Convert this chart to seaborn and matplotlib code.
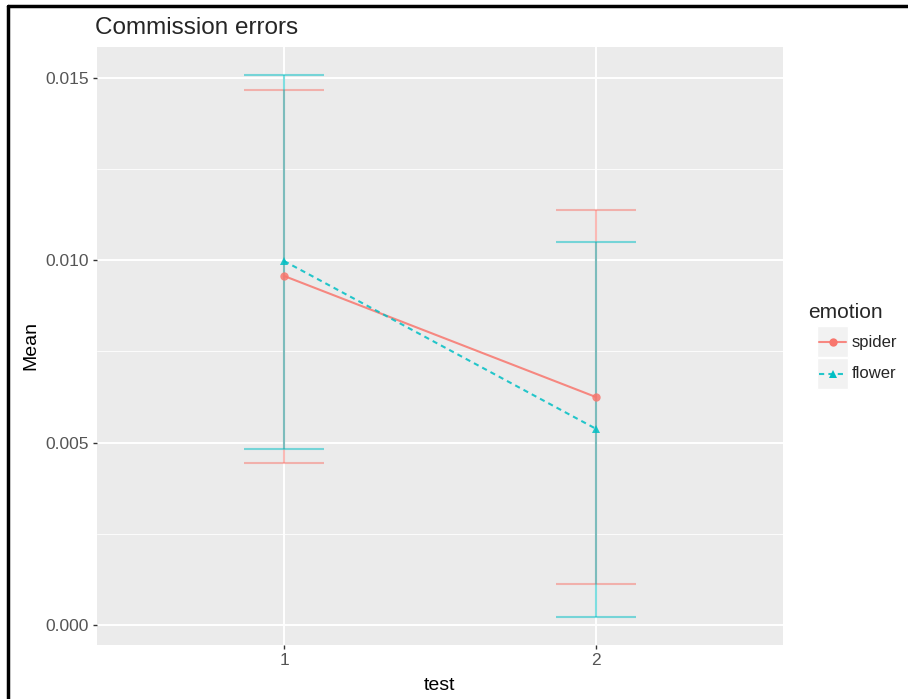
import pandas as pd
import seaborn as sns
import matplotlib.pyplot as plt
from matplotlib.patches import Rectangle
from matplotlib.lines import Line2D

# dados
test = [1, 2, 1, 2]
emotion = ["spider", "spider", "flower", "flower"]
mean = [0.00957, 0.00625, 0.00998, 0.00538]
lower = [0.00444, 0.00112, 0.00483, 0.00022]
upper = [0.01467, 0.01138, 0.01508, 0.01050]

df = pd.DataFrame({"test": test, "emotion": emotion, "Mean": mean,
                   "lower": lower, "upper": upper})

cores = {"spider": "#F8766D", "flower": "#00BFC4"}

sns.set_theme(style="darkgrid", rc={
    "axes.facecolor": "#EBEBEB",
    "grid.color": "white",
})
plt.rcParams["font.family"] = ["Liberation Sans", "DejaVu Sans"]

fig = plt.figure(figsize=(9.08, 6.99), dpi=100)
ax = fig.add_axes([0.1068, 0.0773, 0.7555, 0.8555])

# barras de erro
for emo in ["spider", "flower"]:
    d = df[df["emotion"] == emo]
    ax.errorbar(d["test"], d["Mean"],
                yerr=[d["Mean"] - d["lower"], d["upper"] - d["Mean"]],
                fmt="none", ecolor=cores[emo], alpha=0.5, elinewidth=1.5,
                capsize=29, capthick=1.5, zorder=2)

# linhas com marcadores
sns.lineplot(data=df, x="test", y="Mean", hue="emotion", style="emotion",
             palette=cores, markers={"spider": "o", "flower": "^"},
             dashes={"spider": "", "flower": (2.5, 2)},
             markersize=6, markeredgewidth=0, linewidth=1.5, alpha=0.85,
             legend=False, ax=ax, zorder=3)

ax.set_xlim(0.4, 2.6)
ax.set_ylim(-0.00055, 0.01585)
ax.set_xticks([1, 2])
ax.set_xticklabels(["1", "2"])
ax.set_yticks([0.0, 0.005, 0.010, 0.015])
ax.set_yticklabels(["0.000", "0.005", "0.010", "0.015"])
ax.set_yticks([0.0025, 0.0075, 0.0125], minor=True)
ax.grid(which="major", color="white", linewidth=1.4)
ax.grid(which="minor", axis="y", color="white", linewidth=0.6)
ax.grid(which="minor", axis="x", visible=False)
for s in ax.spines.values():
    s.set_visible(False)
ax.tick_params(axis="both", which="major", length=3, width=1, color="#333333",
               labelcolor="#555555", labelsize=12.5, pad=3, left=True, bottom=True)
ax.tick_params(axis="both", which="minor", length=0)
ax.set_xlabel("test", fontsize=14, color="black", labelpad=6)
ax.set_ylabel("Mean", fontsize=14, color="black", labelpad=4)
ax.set_title("Commission errors", fontsize=17.5, loc="left", x=-0.003, pad=9)

# legenda
fig.text(808 / 908, 1 - 312 / 699, "emotion", fontsize=15, va="center", ha="left")
for i, emo in enumerate(["spider", "flower"]):
    y0 = 326 + i * 32
    fig.patches.append(Rectangle((817 / 908, 1 - (y0 + 31) / 699), 31 / 908, 31 / 699,
                                 transform=fig.transFigure, facecolor="#F2F2F2",
                                 edgecolor="white", linewidth=1))
    yc = 1 - (y0 + 16) / 699
    ls = "-" if emo == "spider" else (0, (2.5, 2))
    mk = "o" if emo == "spider" else "^"
    fig.add_artist(Line2D([819 / 908, 846 / 908], [yc, yc], transform=fig.transFigure,
                          color=cores[emo], linewidth=1.5, linestyle=ls, alpha=0.85))
    fig.add_artist(Line2D([832.5 / 908], [yc], transform=fig.transFigure,
                          color=cores[emo], marker=mk, markersize=6,
                          markeredgewidth=0, linestyle="none"))
    fig.text(852 / 908, yc, emo, fontsize=12, va="center", ha="left")

# moldura preta (topo e esquerda)
fig.add_artist(Line2D([8 / 908, 1], [1 - 6 / 699, 1 - 6 / 699],
                      transform=fig.transFigure, color="black", linewidth=2.5))
fig.add_artist(Line2D([8 / 908, 8 / 908], [0, 1 - 6 / 699],
                      transform=fig.transFigure, color="black", linewidth=2.5))

plt.savefig("out.png", dpi=100)
